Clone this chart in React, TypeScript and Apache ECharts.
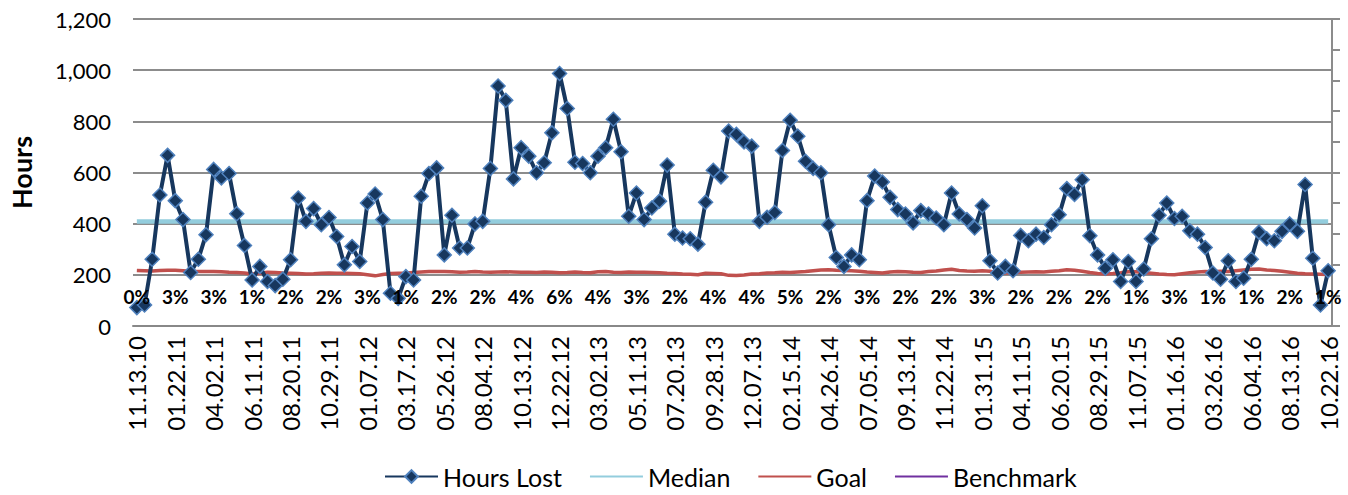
import React, { useEffect, useRef } from "react";
import * as echarts from "echarts";

const START_DATE = "2010-11-13";
const STEP_DAYS = 14;

const HOURS_LOST = [
  72, 82, 261, 512, 667, 490, 416, 209, 261, 357,
  612, 579, 596, 439, 315, 180, 233, 174, 158, 183,
  259, 500, 409, 459, 396, 424, 350, 239, 311, 252,
  481, 516, 416, 128, 108, 193, 180, 507, 596, 618,
  278, 433, 305, 305, 399, 409, 616, 938, 882, 575,
  697, 664, 599, 638, 755, 987, 850, 640, 635, 599,
  664, 697, 808, 681, 429, 520, 416, 461, 488, 629,
  359, 344, 341, 320, 484, 609, 583, 762, 749, 719,
  703, 409, 425, 444, 686, 804, 742, 644, 616, 599,
  396, 268, 233, 278, 259, 490, 586, 563, 503, 455,
  438, 403, 451, 438, 422, 396, 520, 438, 416, 383,
  470, 255, 207, 233, 216, 354, 333, 359, 346, 396,
  435, 537, 514, 572, 353, 278, 226, 259, 174, 252,
  174, 223, 341, 433, 481, 420, 429, 372, 359, 307,
  207, 183, 255, 174, 187, 261, 367, 341, 333, 370,
  399, 370, 553, 265, 82, 216,
];

const MEDIAN = 408;

const GOAL = [
  217, 216, 215, 217, 218, 218, 216, 214, 213, 213,
  213, 212, 210, 209, 207, 203, 206, 210, 209, 207,
  206, 205, 203, 204, 206, 207, 206, 206, 205, 204,
  200, 196, 201, 205, 206, 207, 209, 211, 213, 213,
  213, 212, 210, 211, 213, 211, 210, 211, 212, 211,
  210, 210, 209, 211, 210, 208, 209, 211, 209, 208,
  212, 213, 210, 209, 211, 210, 210, 209, 208, 206,
  205, 203, 202, 200, 206, 205, 204, 198, 197, 199,
  203, 204, 207, 208, 210, 209, 211, 213, 216, 219,
  220, 218, 217, 216, 214, 211, 209, 207, 211, 213,
  212, 210, 209, 213, 215, 219, 222, 217, 215, 214,
  216, 214, 206, 207, 208, 210, 211, 212, 211, 214,
  216, 220, 218, 214, 209, 205, 203, 205, 208, 212,
  212, 209, 206, 203, 201, 200, 204, 208, 211, 213,
  212, 214, 213, 216, 219, 222, 223, 219, 217, 214,
  210, 206, 204, 203, 202, 201,
];

const PCT_LABELS = [
  "0%", "3%", "3%", "1%", "2%", "2%", "3%", "1%", "2%", "2%", "4%", "6%", "4%", "3%", "2%", "4%",
  "4%", "5%", "2%", "3%", "2%", "2%", "3%", "2%", "2%", "2%", "1%", "3%", "1%", "1%", "2%", "1%",
];
const PCT_EVERY = 5;
const PCT_Y = 117;

const Y_TICKS = [0, 200, 400, 600, 800, 1000, 1200];

function pad(n: number) {
  return n < 10 ? "0" + n : "" + n;
}

function buildCategories(count: number): string[] {
  const out: string[] = [];
  const base = new Date(START_DATE + "T00:00:00Z").getTime();
  for (let i = 0; i < count; i++) {
    const d = new Date(base + i * STEP_DAYS * 86400000);
    out.push(
      pad(d.getUTCMonth() + 1) + "." + pad(d.getUTCDate()) + "." + pad(d.getUTCFullYear() % 100)
    );
  }
  return out;
}

export default function App() {
  const ref = useRef<HTMLDivElement>(null);

  useEffect(() => {
    document.body.style.margin = "0";
    if (!ref.current) return;
    const chart = echarts.init(ref.current, undefined, { renderer: "svg" });
    const categories = buildCategories(HOURS_LOST.length);
    const font = "Lato";
    const pctData = PCT_LABELS.map((t, k) => [k * PCT_EVERY, PCT_Y, k]);
    const noSymbol = { opacity: 0 };

    chart.setOption({
      animation: false,
      backgroundColor: "#ffffff",
      textStyle: { fontFamily: font },
      grid: { left: 131, right: 16, top: 19, bottom: 169, containLabel: false },
      legend: {
        top: 464,
        left: 384,
        padding: 0,
        itemWidth: 53,
        itemHeight: 16,
        itemGap: 27,
        textStyle: { fontSize: 25, color: "#000", fontFamily: font },
        data: [
          { name: "Hours Lost" },
          { name: "Median", itemStyle: noSymbol },
          { name: "Goal", itemStyle: noSymbol },
          { name: "Benchmark", itemStyle: noSymbol },
        ],
      },
      xAxis: {
        type: "category",
        data: categories,
        boundaryGap: true,
        axisLine: { show: true, lineStyle: { color: "#888888", width: 2 } },
        axisTick: { show: false },
        axisLabel: {
          interval: PCT_EVERY - 1,
          rotate: 90,
          fontSize: 24,
          color: "#000",
          fontFamily: font,
          margin: 10,
        },
        splitLine: { show: false },
      },
      yAxis: [
        {
          type: "value",
          min: Y_TICKS[0],
          max: Y_TICKS[Y_TICKS.length - 1],
          interval: 200,
          name: "Hours",
          nameLocation: "middle",
          nameGap: 98,
          nameTextStyle: { fontSize: 27, fontWeight: "bold", color: "#000", fontFamily: font },
          axisLine: { show: false },
          axisTick: { show: false },
          axisLabel: {
            fontSize: 22,
            color: "#000",
            margin: 22,
            fontFamily: font,
            formatter: (v: number) => v.toLocaleString("en-US"),
          },
          splitLine: { show: true, lineStyle: { color: "#8c8c8c", width: 2 } },
        },
        {
          type: "value",
          min: 0,
          max: 10,
          interval: 1,
          position: "right",
          axisLine: { show: true, lineStyle: { color: "#8c8c8c", width: 2 } },
          axisTick: { show: true, inside: false, length: 8, lineStyle: { color: "#8c8c8c", width: 2 } },
          axisLabel: { show: false },
          splitLine: { show: false },
        },
      ],
      series: [
        {
          name: "Median",
          type: "line",
          data: HOURS_LOST.map(() => MEDIAN),
          symbol: "none",
          lineStyle: { color: "#93CDDD", width: 4.5 },
          itemStyle: { color: "#93CDDD" },
          z: 2,
        },
        {
          name: "Goal",
          type: "line",
          data: GOAL,
          symbol: "none",
          lineStyle: { color: "#C0504D", width: 3.5 },
          itemStyle: { color: "#C0504D" },
          z: 2,
        },
        {
          name: "Benchmark",
          type: "line",
          yAxisIndex: 1,
          data: [],
          symbol: "none",
          lineStyle: { color: "#7030A0", width: 3.5 },
          itemStyle: { color: "#7030A0" },
        },
        {
          name: "Hours Lost",
          type: "line",
          data: HOURS_LOST,
          symbol: "diamond",
          symbolSize: 14,
          showAllSymbol: true,
          lineStyle: { color: "#17375E", width: 4 },
          itemStyle: { color: "#17375E", borderColor: "#4F81BD", borderWidth: 1.5 },
          z: 4,
        },
        {
          name: "pct",
          type: "custom",
          data: pctData,
          silent: true,
          z: 6,
          renderItem: (params: any, api: any) => {
            const p = api.coord([api.value(0), api.value(1)]);
            const k = api.value(2);
            return {
              type: "text",
              x: p[0],
              y: p[1],
              z2: 100,
              style: {
                text: PCT_LABELS[k],
                font: "bold 19px Lato",
                fontSize: 19,
                fontWeight: "bold",
                fontFamily: font,
                fill: "#000",
                align: "center",
                verticalAlign: "middle",
              },
            };
          },
        },
      ],
    });

    return () => chart.dispose();
  }, []);

  return <div ref={ref} style={{ width: 1348, height: 495 }} />;
}
